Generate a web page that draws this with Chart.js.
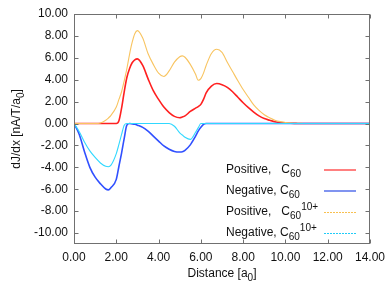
<!DOCTYPE html>
<html>
<head>
<meta charset="utf-8">
<script src="https://cdn.jsdelivr.net/npm/chart.js@4.4.0/dist/chart.umd.min.js"></script>
<style>
  html, body { margin: 0; padding: 0; background: #fff; }
  #wrap { width: 392px; height: 296px; position: relative; }
</style>
</head>
<body>
<div id="wrap"><canvas id="dj-chart"></canvas></div>
<script>
// distance grid [a0], denser where the curves bend
const distance = [
  0, 0.25, 0.5, 0.75, 1, 1.25, 1.5, 1.625, 1.75, 2,
  2.125, 2.25, 2.375, 2.5, 2.625, 2.75, 2.875, 3, 3.25, 3.5,
  3.75, 4, 4.25, 4.5, 4.75, 5, 5.125, 5.25, 5.5, 5.75,
  5.875, 6, 6.125, 6.25, 6.5, 6.75, 7, 7.25, 7.5, 7.75,
  8, 8.25, 8.5, 8.75, 9, 9.25, 9.5, 9.75, 10, 10.25,
  10.5, 10.75, 11, 12, 13, 14
];

// dJ/dx values
const posC60 = [
  0, 0, 0, 0, 0, 0, 0, 0, 0, 0,
  0.25, 1.4, 2.9, 4.2, 5.0, 5.55, 5.82, 5.9, 5.3, 4.1,
  3.0, 2.2, 1.5, 1.0, 0.65, 0.53, 0.6, 0.7, 1.1, 1.4,
  1.55, 1.75, 2.2, 2.8, 3.42, 3.65, 3.55, 3.3, 2.9, 2.4,
  1.9, 1.45, 1.05, 0.7, 0.45, 0.3, 0.17, 0.08, 0.04, 0.02,
  0.01, 0, 0, 0, 0, 0
];
const negC60 = [
  0, -1.0, -2.6, -4.0, -4.9, -5.5, -5.98, -6.06, -5.85, -5.1,
  -3.9, -2.7, -1.35, -0.15, 0, -0.03, -0.07, -0.15, -0.35, -0.7,
  -1.15, -1.6, -2.05, -2.35, -2.55, -2.6, -2.58, -2.45, -1.95, -1.15,
  -0.7, -0.35, -0.08, 0, 0, 0, 0, 0, 0, 0,
  0, 0, 0, 0, 0, 0, 0, 0, 0, 0,
  0, 0, 0, 0, 0, 0
];
const posC60ion = [
  0, 0, 0, 0, 0, 0.05, 0.3, 0.5, 0.75, 1.5,
  2.2, 2.9, 3.9, 5.0, 6.3, 7.4, 8.2, 8.48, 7.8, 6.4,
  5.4, 4.6, 4.3, 4.8, 5.6, 6.1, 6.18, 6.05, 5.4, 4.5,
  3.95, 4.1, 4.6, 5.3, 6.4, 6.78, 6.5, 5.6, 4.75, 3.9,
  3.1, 2.4, 1.7, 1.2, 0.8, 0.53, 0.3, 0.17, 0.1, 0.05,
  0.02, 0.01, 0, 0, 0, 0
];
const negC60ion = [
  0, -0.75, -1.7, -2.5, -3.1, -3.6, -3.9, -3.94, -3.8, -2.75,
  -1.9, -1.0, -0.15, 0, 0, 0, 0, 0, 0, 0,
  0, 0, 0, 0, -0.25, -0.85, -1.05, -1.25, -1.45, -0.8,
  -0.4, 0, 0, 0, 0, 0, 0, 0, 0, 0,
  0, 0, 0, 0, 0, 0, 0, 0, 0, 0,
  0, 0, 0, 0, 0, 0
];

const xTicks = [0, 2, 4, 6, 8, 10, 12, 14];
const yTicks = [-10, -8, -6, -4, -2, 0, 2, 4, 6, 8, 10];

const FONT = "'Liberation Sans', Arial, sans-serif";

function pts(ys) {
  return distance.map((x, i) => ({ x: x, y: ys[i] }));
}

// text with sub/superscripts, drawn left to right
function drawRich(ctx, parts, x, y) {
  parts.forEach((p) => {
    let dy = 0;
    if (p.s === "sub") { ctx.font = "10px " + FONT; dy = 4; }
    else if (p.s === "sup") { ctx.font = "10px " + FONT; dy = -5; }
    else ctx.font = "12px " + FONT;
    ctx.fillText(p.t, x, y + dy);
    x += ctx.measureText(p.t).width;
  });
  return x;
}
function richWidth(ctx, parts) {
  let w = 0;
  parts.forEach((p) => {
    ctx.font = (p.s ? "10px " : "12px ") + FONT;
    w += ctx.measureText(p.t).width;
  });
  return w;
}

const legendRows = [
  { parts: [{ t: "Positive,   C" }, { t: "60", s: "sub" }], color: "#ff8080", width: 2, dash: [] },
  { parts: [{ t: "Negative, C" }, { t: "60", s: "sub" }], color: "#8094f0", width: 2, dash: [] },
  { parts: [{ t: "Positive,   C" }, { t: "60", s: "sub" }, { t: "10+", s: "sup" }], color: "#f8c050", width: 1, dash: [2, 1] },
  { parts: [{ t: "Negative, C" }, { t: "60", s: "sub" }, { t: "10+", s: "sup" }], color: "#20ccf8", width: 1, dash: [2, 1] },
];

const framePlugin = {
  id: "frame",
  afterDraw(chart) {
    const ctx = chart.ctx;
    const a = chart.chartArea;
    const xs = chart.scales.x, ys = chart.scales.y;
    const L = Math.round(a.left) + 0.5, R = Math.round(a.right) - 0.5;
    const T = Math.round(a.top) + 0.5, B = Math.round(a.bottom) - 0.5;
    ctx.save();
    ctx.strokeStyle = "#707070";
    ctx.lineWidth = 1;
    ctx.strokeRect(L, T, R - L, B - T);
    ctx.beginPath();
    xTicks.forEach((v) => {
      const px = Math.round(xs.getPixelForValue(v)) + 0.5;
      ctx.moveTo(px, B); ctx.lineTo(px, B - 4);
      ctx.moveTo(px, T); ctx.lineTo(px, T + 4);
    });
    yTicks.forEach((v) => {
      const py = Math.round(ys.getPixelForValue(v)) + 0.5;
      ctx.moveTo(L, py); ctx.lineTo(L + 4, py);
      ctx.moveTo(R, py); ctx.lineTo(R - 4, py);
    });
    ctx.stroke();

    // axis titles
    ctx.fillStyle = "#111";
    ctx.textBaseline = "alphabetic";
    ctx.textAlign = "left";
    const xt = [{ t: "Distance [a" }, { t: "0", s: "sub" }, { t: "]" }];
    const cx = (a.left + a.right) / 2;
    drawRich(ctx, xt, cx - richWidth(ctx, xt) / 2, 277);
    const yt = [{ t: "dJ/dx [nA/T/a" }, { t: "0", s: "sub" }, { t: "]" }];
    ctx.save();
    ctx.translate(20, (a.top + a.bottom) / 2);
    ctx.rotate(-Math.PI / 2);
    drawRich(ctx, yt, -richWidth(ctx, yt) / 2, 0);
    ctx.restore();

    // legend
    legendRows.forEach((row, i) => {
      const base = 173 + i * 20.9;
      ctx.fillStyle = "#111";
      drawRich(ctx, row.parts, 226, base);
      ctx.strokeStyle = row.color;
      ctx.lineWidth = row.width;
      ctx.setLineDash(row.dash);
      ctx.beginPath();
      const ly = row.width === 2 ? Math.round(base - 3) : Math.round(base - 3) + 0.5;
      ctx.moveTo(324, ly);
      ctx.lineTo(356, ly);
      ctx.stroke();
    });
    ctx.setLineDash([]);
    ctx.restore();
  },
};

new Chart(document.getElementById("dj-chart"), {
  type: "line",
  data: {
    datasets: [
      { label: "Positive, C60", data: pts(posC60), borderColor: "#ff2020", borderWidth: 1.6, order: 4 },
      { label: "Negative, C60", data: pts(negC60), borderColor: "#3050ff", borderWidth: 1.6, order: 3 },
      { label: "Positive, C60 10+", data: pts(posC60ion), borderColor: "#f8c460", borderWidth: 1.1, order: 2 },
      { label: "Negative, C60 10+", data: pts(negC60ion), borderColor: "#30d8ff", borderWidth: 1.1, order: 1 },
    ],
  },
  options: {
    responsive: true,
    maintainAspectRatio: false,
    animation: false,
    devicePixelRatio: 1,
    layout: { padding: { left: 0, right: 22, top: 14, bottom: 0 } },
    elements: {
      point: { radius: 0 },
      line: { cubicInterpolationMode: "monotone", fill: false },
    },
    plugins: {
      legend: { display: false },
      tooltip: { enabled: false },
    },
    scales: {
      x: {
        type: "linear",
        min: 0,
        max: 14,
        afterFit: (s) => { s.height = 52; },
        afterBuildTicks: (s) => { s.ticks = xTicks.map((v) => ({ value: v })); },
        grid: { display: false, drawTicks: false },
        border: { display: false },
        ticks: {
          padding: 6,
          color: "#111",
          maxRotation: 0,
          font: { family: FONT, size: 12 },
          callback: (v) => v.toFixed(2),
        },
      },
      y: {
        min: -11,
        max: 10,
        afterFit: (s) => { s.width = 74; },
        afterBuildTicks: (s) => { s.ticks = yTicks.map((v) => ({ value: v })); },
        grid: { display: false, drawTicks: false },
        border: { display: false },
        ticks: {
          padding: 6,
          color: "#111",
          font: { family: FONT, size: 12 },
          callback: (v) => v.toFixed(2),
        },
      },
    },
  },
  plugins: [framePlugin],
});
</script>
</body>
</html>
